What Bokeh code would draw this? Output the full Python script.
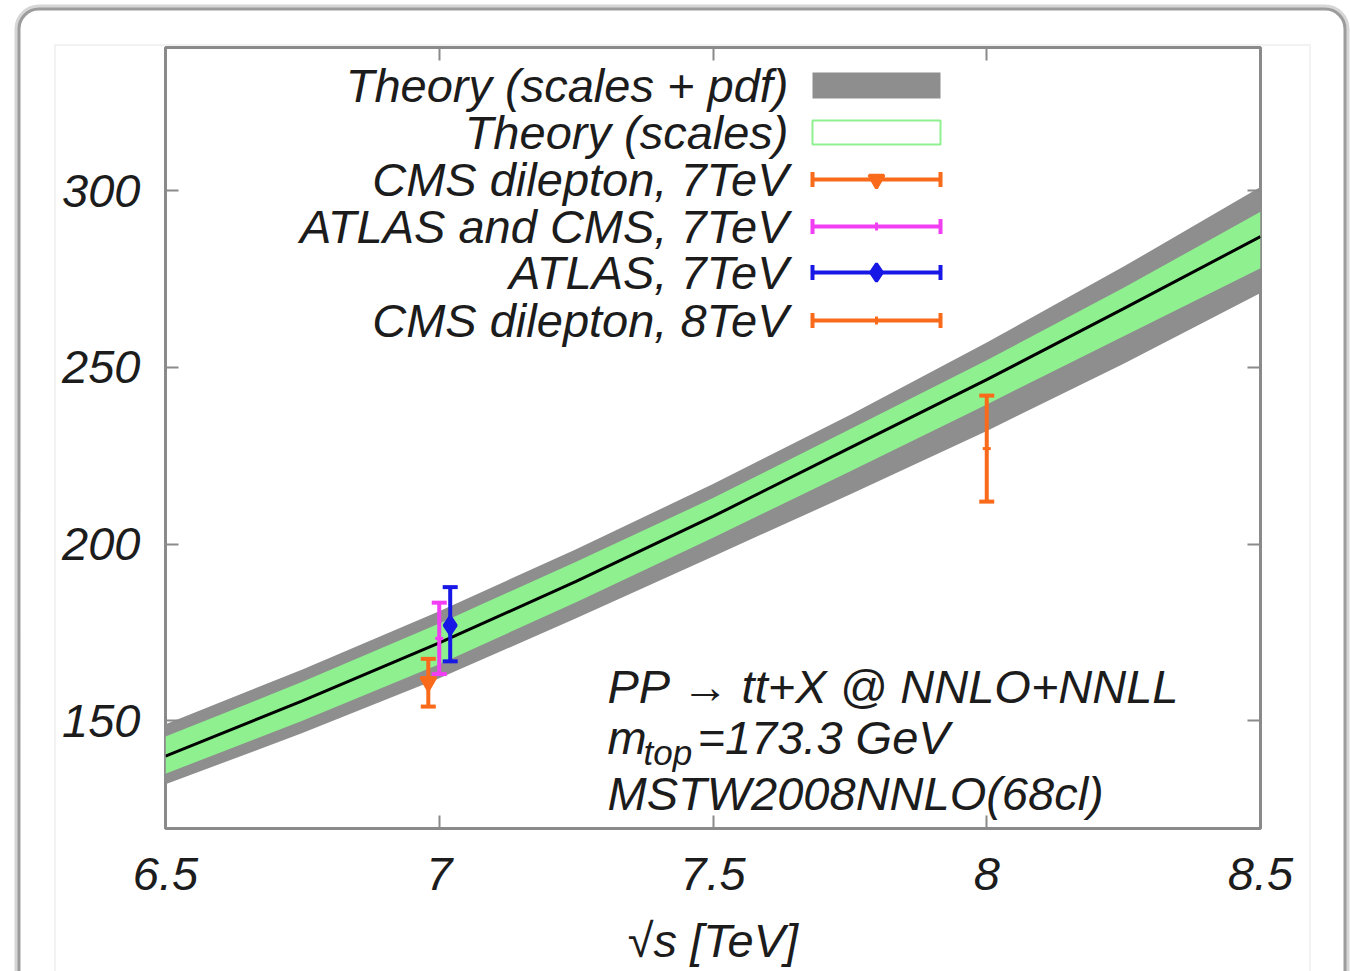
import numpy as np
from urllib.parse import quote
from bokeh.plotting import figure
from bokeh.models import Range1d, LinearAxis, FixedTicker, InlineStyleSheet
from bokeh.core.properties import value
from bokeh.embed import file_html
from bokeh.resources import INLINE

# ---------------- data ----------------
x_theory = [6.5, 6.75, 7.0, 7.25, 7.5, 7.75, 8.0, 8.25, 8.5]
sigma_central = [140.0, 155.6, 172.0, 189.4, 207.8, 227.2, 246.5, 266.6, 287.0]
sigma_scales_hi = [145.5, 161.0, 177.5, 195.0, 213.0, 232.5, 252.0, 272.5, 294.0]
sigma_scales_lo = [135.0, 150.0, 166.0, 183.5, 201.8, 220.5, 239.5, 258.8, 278.0]
sigma_total_hi = [149.0, 164.5, 181.0, 198.5, 217.0, 236.5, 257.0, 278.5, 301.0]
sigma_total_lo = [132.0, 146.5, 162.0, 179.0, 196.5, 214.0, 232.0, 251.0, 271.0]

exp_labels = ["CMS dilepton, 7TeV", "ATLAS and CMS, 7TeV", "ATLAS, 7TeV", "CMS dilepton, 8TeV"]
exp_x = [6.98, 7.0, 7.02, 8.0]
exp_y = [161.0, 173.3, 177.0, 227.0]
exp_lo = [154.0, 163.2, 166.8, 212.0]
exp_hi = [167.5, 183.4, 187.8, 242.0]

theory_labels = ["Theory (scales + pdf)", "Theory (scales)"]
x_ticks = [6.5, 7, 7.5, 8, 8.5]
y_ticks = [150, 200, 250, 300]
x_tick_labels = {6.5: "6.5", 7: "7", 7.5: "7.5", 8: "8", 8.5: "8.5"}

annot_line1 = "PP \u2192 tt+X @  NNLO+NNLL"
annot_m = "m"
annot_sub = "top"
annot_rest = "=173.3 GeV"
annot_line3 = "MSTW2008NNLO(68cl)"

# ---------------- styles ----------------
exp_colors = ["#f96a1a", "#f23ef2", "#1818e6", "#f96a1a"]
exp_markers = ["inverted_triangle", "dash", "diamond", "dash"]
exp_msize = [15, 8, 18, 8]
GREY = "#8e8e8e"
GREEN = "#8ff08f"
AXIS_GREY = "#8a8a8a"
TXT = "#1c1c1c"
FONT = "Liberation Sans"
FS = "47px"

X0, X1, Y0, Y1 = 6.5, 8.5, 119.5, 340.5
FL, FT, FW, FH = 165, 47, 1095, 781
W, H = 1350, 971


def px(xp):
    return X0 + (xp - FL) / FW * (X1 - X0)


def py(yp):
    return Y1 - (yp - FT) / FH * (Y1 - Y0)


p = figure(frame_width=FW, frame_height=FH,
           min_border_left=FL, min_border_right=W - FL - FW,
           min_border_top=FT, min_border_bottom=H - FT - FH,
           x_range=Range1d(X0, X1), y_range=Range1d(Y0, Y1),
           output_backend="svg", toolbar_location=None)
p.grid.visible = False
p.background_fill_color = "white"
p.border_fill_color = None
p.outline_line_color = AXIS_GREY
p.outline_line_width = 3

# slide frame drawn as the page background behind the (transparent) border area
svg_bg = ("<svg xmlns='http://www.w3.org/2000/svg' width='1350' height='971'>"
          "<rect x='0' y='0' width='1350' height='971' fill='white'/>"
          "<rect x='19' y='9' width='1326' height='1010' rx='20' fill='none' "
          "stroke='#d6d6d6' stroke-width='9'/>"
          "<rect x='19' y='9' width='1326' height='1010' rx='20' fill='white' "
          "stroke='#9c9c9c' stroke-width='3'/>"
          "<rect x='55' y='45' width='1255' height='1000' fill='none' "
          "stroke='#f2f2f2' stroke-width='2'/>"
          "</svg>")
css = (":host { background-image: url(\"data:image/svg+xml;utf8," + quote(svg_bg)
       + "\"); background-repeat: no-repeat; background-color: white; }")
p.stylesheets = [InlineStyleSheet(css=css)]

for ax in (p.xaxis[0], p.yaxis[0]):
    ax.axis_line_color = None
    ax.major_tick_in = 13
    ax.major_tick_out = 0
    ax.minor_tick_line_color = None
    ax.major_tick_line_color = AXIS_GREY
    ax.major_tick_line_width = 2
    ax.major_label_text_font = FONT
    ax.major_label_text_font_style = "italic"
    ax.major_label_text_font_size = FS
    ax.major_label_text_color = TXT

p.xaxis.ticker = FixedTicker(ticks=x_ticks)
p.xaxis.major_label_overrides = x_tick_labels
p.xaxis.major_label_standoff = 29
p.xaxis.axis_label = "\u221as [TeV]"
p.xaxis.axis_label_text_font = FONT
p.xaxis.axis_label_text_font_style = "italic"
p.xaxis.axis_label_text_font_size = FS
p.xaxis.axis_label_text_color = TXT
p.xaxis.axis_label_standoff = 21
p.yaxis.ticker = FixedTicker(ticks=y_ticks)
p.yaxis.major_label_standoff = 25

# mirrored ticks (right / top)
ra = LinearAxis(ticker=FixedTicker(ticks=y_ticks), axis_line_color=None,
                major_tick_in=13, major_tick_out=0, minor_tick_line_color=None,
                major_tick_line_color=AXIS_GREY, major_tick_line_width=2,
                major_label_text_font_size="1px", major_label_text_color=None)
p.add_layout(ra, "right")
ta = LinearAxis(ticker=FixedTicker(ticks=x_ticks), axis_line_color=None,
                major_tick_in=13, major_tick_out=0, minor_tick_line_color=None,
                major_tick_line_color=AXIS_GREY, major_tick_line_width=2,
                major_label_text_font_size="1px", major_label_text_color=None)
p.add_layout(ta, "above")

# ---------------- theory bands ----------------
p.varea(x=x_theory, y1=sigma_total_lo, y2=sigma_total_hi, fill_color=GREY)
p.varea(x=x_theory, y1=sigma_scales_lo, y2=sigma_scales_hi, fill_color=GREEN)
p.line(x=x_theory, y=sigma_central, line_color="black", line_width=3)

# ---------------- experimental points ----------------
for i in range(len(exp_x)):
    c = exp_colors[i]
    p.segment(x0=[exp_x[i]], y0=[exp_lo[i]], x1=[exp_x[i]], y1=[exp_hi[i]],
              line_color=c, line_width=4)
    p.scatter(x=[exp_x[i], exp_x[i]], y=[exp_lo[i], exp_hi[i]], marker="dash",
              size=15, line_color=c, line_width=4)
    p.scatter(x=[exp_x[i]], y=[exp_y[i]], marker=exp_markers[i], size=exp_msize[i],
              line_color=c, fill_color=c, line_width=3)

# ---------------- legend (gnuplot style: text left, sample right) ----------------
leg_rows_px = [85, 132, 179, 226, 272, 320]
leg_text_right = 788
s0, s1 = 812, 940
all_labels = theory_labels + exp_labels
p.text(x=[px(leg_text_right)] * len(all_labels), y=[py(r) for r in leg_rows_px],
       text=all_labels, text_align="right", text_baseline="middle",
       text_font=value(FONT), text_font_style="italic", text_font_size=FS,
       text_color=TXT)
p.quad(left=[px(s0)], right=[px(s1)], top=[py(leg_rows_px[0] - 13)],
       bottom=[py(leg_rows_px[0] + 13)], fill_color=GREY, line_color=None)
p.quad(left=[px(s0)], right=[px(s1)], top=[py(leg_rows_px[1] - 12)],
       bottom=[py(leg_rows_px[1] + 12)], fill_color=None, line_color=GREEN,
       line_width=2)
sm = (s0 + s1) / 2
for i in range(len(exp_labels)):
    r = py(leg_rows_px[i + 2])
    c = exp_colors[i]
    p.segment(x0=[px(s0)], y0=[r], x1=[px(s1)], y1=[r], line_color=c, line_width=4)
    p.scatter(x=[px(s0), px(s1)], y=[r, r], marker="dash", angle=np.pi / 2,
              size=15, line_color=c, line_width=4)
    p.scatter(x=[px(sm)], y=[r], marker=exp_markers[i], size=exp_msize[i],
              angle=0 if exp_markers[i] != "dash" else np.pi / 2,
              line_color=c, fill_color=c, line_width=3)

# ---------------- annotation ----------------
tx = px(607)
common = dict(text_font=value(FONT), text_font_style="italic", text_color=TXT,
              text_baseline="middle")
p.text(x=[tx], y=[py(686)], text=[annot_line1], text_font_size=FS, **common)
p.text(x=[tx], y=[py(737)], text=[annot_m], text_font_size=FS, **common)
p.text(x=[px(643)], y=[py(752)], text=[annot_sub], text_font_size="35px", **common)
p.text(x=[px(697)], y=[py(737)], text=[annot_rest], text_font_size=FS, **common)
p.text(x=[tx], y=[py(793)], text=[annot_line3], text_font_size=FS, **common)

open("out.html", "w").write(file_html(p, INLINE))
